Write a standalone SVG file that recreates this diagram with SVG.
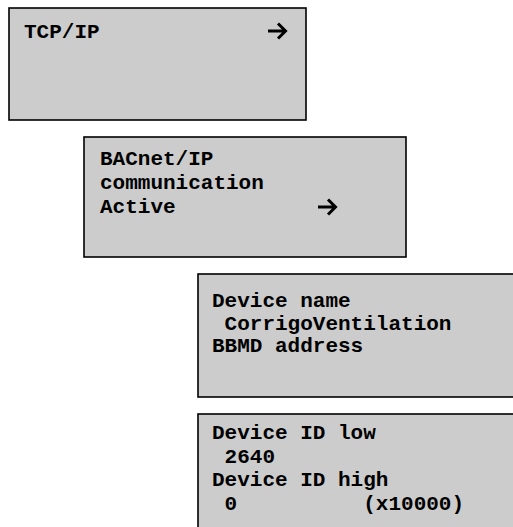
<svg xmlns="http://www.w3.org/2000/svg" width="513" height="527" viewBox="0 0 513 527">
<style>
.box{fill:#cccccc;stroke:#000000;stroke-width:1.6}
.t{font-family:"Liberation Mono","Courier New",monospace;font-weight:bold;font-size:21px;fill:#000000;white-space:pre}
.arr{fill:none;stroke:#000000;stroke-width:3;stroke-linejoin:miter;stroke-linecap:butt}
</style>
<defs>
<path id="arrow" class="arr" d="M0,0 H17 M10,-7.5 L17.5,0 L10,7.5"/>
</defs>
<rect width="513" height="527" fill="#ffffff"/>
<g id="node-tcpip">
<rect class="box" x="9" y="8" width="297" height="112"/>
<text class="t" x="24" y="38">TCP/IP</text>
<use href="#arrow" x="268" y="31"/>
</g>
<g id="node-bacnet">
<rect class="box" x="84" y="137" width="322" height="120"/>
<text class="t" x="100" y="165">BACnet/IP</text>
<text class="t" x="100" y="189">communication</text>
<text class="t" x="100" y="213">Active</text>
<use href="#arrow" x="318" y="207"/>
</g>
<g id="node-device-name">
<rect class="box" x="198" y="274" width="330" height="123"/>
<text class="t" x="212" y="307">Device name</text>
<text class="t" x="212" y="330" xml:space="preserve"> CorrigoVentilation</text>
<text class="t" x="212" y="352">BBMD address</text>
</g>
<g id="node-device-id">
<rect class="box" x="198" y="414" width="330" height="130"/>
<text class="t" x="212" y="439">Device ID low</text>
<text class="t" x="212" y="463" xml:space="preserve"> 2640</text>
<text class="t" x="212" y="486">Device ID high</text>
<text class="t" x="212" y="510" xml:space="preserve"> 0          (x10000)</text>
</g>
<g id="connectors"></g>
</svg>
